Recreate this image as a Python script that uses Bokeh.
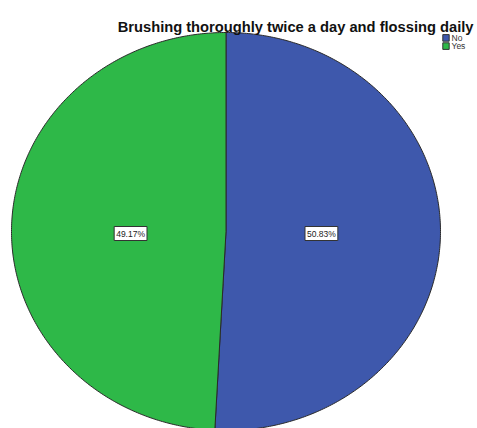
import numpy as np
from bokeh.plotting import figure
from bokeh.models import Range1d, Label
from bokeh.embed import file_html
from bokeh.resources import INLINE
from bokeh.core.properties import value

title_text = "Brushing thoroughly twice a day and flossing daily"
categories = ["No", "Yes"]
percentages = [50.83, 49.17]
colors = ["#3E58AC", "#2EB848"]

W, H = 477, 428
p = figure(width=W, height=H, output_backend="svg", toolbar_location=None,
           x_range=Range1d(0, W), y_range=Range1d(H, 0), min_border=0)
p.axis.visible = False
p.grid.visible = False
p.outline_line_color = None
p.background_fill_color = "white"
p.border_fill_color = "white"

cx, cy, rx, ry = 225.5, 231.0, 214.5, 199.0
total = sum(percentages)
cum = np.cumsum([0] + percentages) / total * 2 * np.pi
xs, ys = [], []
for a0, a1 in zip(cum[:-1], cum[1:]):
    t = np.linspace(a0, a1, 300)
    xs.append(list(np.r_[cx, cx + rx * np.sin(t)]))
    ys.append(list(np.r_[cy, cy - ry * np.cos(t)]))
p.patches(xs, ys, fill_color=colors, line_color="#2a2a2a", line_width=1)

frac = 0.445
for a0, a1, v in zip(cum[:-1], cum[1:], percentages):
    m = (a0 + a1) / 2
    lx = cx + frac * rx * np.sin(m)
    ly = cy + 2
    p.add_layout(Label(x=lx, y=ly, text=f"{v:.2f}%", text_align="center",
                       text_baseline="middle", text_font="Liberation Sans",
                       text_font_size="8.5px", text_color="#222222",
                       background_fill_color="white", border_line_color="#333333",
                       border_line_width=1, padding=2))

p.add_layout(Label(x=473, y=26, text=title_text, text_align="right",
                   text_baseline="alphabetic", text_font="Liberation Sans",
                   text_font_style="bold", text_font_size="14.7px", text_color="#111111"))

leg_y = [37.4, 45.6]
p.rect(x=[445.5] * 2, y=leg_y, width=6.4, height=6.6, fill_color=colors,
       line_color="#333333", line_width=1)
p.text(x=[451] * 2, y=leg_y, text=categories, text_baseline="middle",
       text_align="left", text_font=value("Liberation Sans"),
       text_font_size="8.5px", text_color="#333333")

open("out.html", "w").write(file_html(p, INLINE))
